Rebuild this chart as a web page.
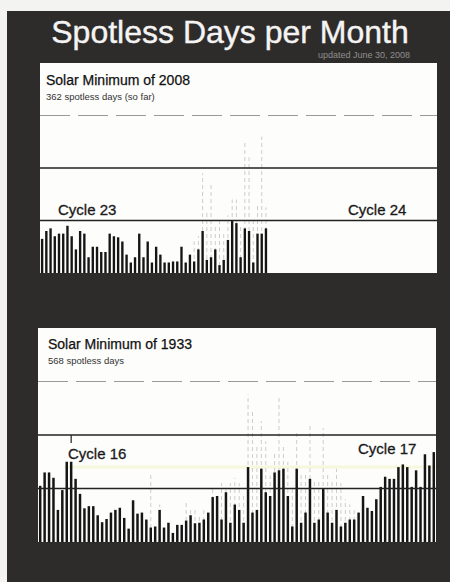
<!DOCTYPE html>
<html>
<head>
<meta charset="utf-8">
<script src="https://cdn.jsdelivr.net/npm/d3@7"></script>
<style>
  body { margin: 0; background: #f3f3f1; }
  svg { display: block; }
  text { font-family: 'Liberation Sans', Arial, sans-serif; }
</style>
</head>
<body>
<div id="chart"></div>
<script>
const width = 450
const height = 582

// one value per month, spotless days
// "solid" = the dark bars, "faded" = the pale bars behind them (0 = none)
const months2008 = d3.range(94)
const solid2008 = [
  6.5, 8, 8.5, 7, 7.5, 7.5, 9, 7, 4.5, 8,
  7.5, 3, 5, 5, 4, 4, 7.5, 7, 6.8, 6,
  3.5, 2, 3, 7.5, 3, 6, 2, 5, 3.5, 2,
  2, 2.2, 2.2, 5, 2, 3.5, 2.2, 4.5, 8, 2.5,
  3, 4.5, 1.5, 2.5, 6.3, 10, 9.5, 3, 8.5, 8,
  2, 7.5, 7.5, 8.5
]
const faded2008 = [
  0, 0, 0, 0, 0, 0, 0, 0, 0, 0,
  0, 0, 0, 0, 0, 0, 0, 0, 0, 0,
  0, 0, 0, 0, 0, 0, 0, 0, 0, 0,
  0, 0, 0, 0, 0, 0, 6, 7, 19, 12,
  17, 9, 10, 8, 11, 14, 14, 9, 25, 22,
  10, 13, 26, 12.5
]

const months1933 = d3.range(90)
const solid1933 = [
  10.5, 13, 13, 12, 6, 9.7, 15, 15, 11.8, 9,
  6.3, 6.7, 6.7, 5, 3.7, 4.3, 5.5, 6, 6.4, 4.5,
  2.5, 7.8, 5.3, 5.5, 4.2, 2.7, 2.9, 6, 2.7, 3.6,
  1.7, 3.2, 3.2, 4, 5, 3.5, 3.6, 4.2, 5.5, 8.4,
  8.6, 4.2, 9.3, 3.6, 7, 6, 3.6, 14, 5.5, 6,
  13.7, 9.3, 8.6, 13, 13.4, 13.7, 8.6, 2.9, 13.7, 3.6,
  5.5, 11.8, 3.6, 4.2, 9.9, 5.5, 3.6, 6, 2.9, 3.6,
  4.2, 4.2, 5.5, 8.6, 6.4, 5.8, 8, 10.3, 12.2, 11.8,
  11.8, 14, 14.5, 14, 10.3, 13.4, 10.3, 16.4, 14.3, 16.8
]
const faded1933 = [
  0, 0, 0, 0, 0, 0, 0, 0, 0, 0,
  0, 0, 0, 0, 0, 0, 0, 0, 0, 0,
  0, 0, 0, 0, 0, 13, 0, 7, 0, 0,
  0, 0, 0, 7.6, 6, 6.5, 5, 6, 0, 10,
  9, 11, 10, 11, 12, 11, 9, 27.6, 24.5, 18,
  22.6, 18.8, 12.4, 17, 27, 18, 15, 10.5, 20.8, 13,
  13, 22, 11.8, 11.8, 21.3, 13, 11.8, 13.7, 11, 8,
  7, 6, 0, 0, 0, 0, 0, 0, 0, 0,
  0, 0, 0, 0, 0, 0, 0, 0, 0, 0
]

const gridDays = [10, 20, 30]
const yMax = 40

const svg = d3
  .select('#chart')
  .append('svg')
  .attr('width', width)
  .attr('height', height)

// dark frame
svg
  .append('rect')
  .attr('x', 7)
  .attr('y', 11)
  .attr('width', width - 7)
  .attr('height', height - 11)
  .attr('fill', '#2e2c2a')

svg
  .append('text')
  .attr('x', 230)
  .attr('y', 43)
  .attr('text-anchor', 'middle')
  .attr('font-size', 32)
  .attr('fill', '#f4f4f4')
  .attr('stroke', '#f4f4f4')
  .attr('stroke-width', 0.4)
  .text('Spotless Days per Month')

svg
  .append('text')
  .attr('x', 410)
  .attr('y', 58)
  .attr('text-anchor', 'end')
  .attr('font-size', 9)
  .attr('fill', '#8f8f8f')
  .text('updated June 30, 2008')

function drawPanel(box, months, solid, faded, opts) {
  const g = svg
    .append('g')
    .attr('transform', `translate(${box.x},${box.y})`)

  g.append('rect')
    .attr('width', box.w)
    .attr('height', box.h)
    .attr('fill', '#fdfdfc')

  const x = d3
    .scaleBand()
    .domain(months)
    .range([0, box.w])

  const y = d3
    .scaleLinear()
    .domain([0, yMax])
    .range([box.h, 0])

  if (opts.highlight) {
    g.append('line')
      .attr('x1', x(opts.highlight.from))
      .attr('x2', box.w)
      .attr('y1', y(opts.highlight.value))
      .attr('y2', y(opts.highlight.value))
      .attr('stroke', '#eef2b4')
      .attr('stroke-width', 3)
      .attr('opacity', 0.45)
  }

  // pale bars
  g.selectAll('.faded')
    .data(faded.map((v, i) => ({ i, v })).filter(d => d.v > 0))
    .enter()
    .append('line')
    .attr('class', 'faded')
    .attr('x1', d => x(d.i) + x.bandwidth() / 2)
    .attr('x2', d => x(d.i) + x.bandwidth() / 2)
    .attr('y1', y(0))
    .attr('y2', d => y(d.v))
    .attr('stroke', '#cdcdcd')
    .attr('stroke-width', 1)
    .attr('stroke-dasharray', '4,3')

  // dark bars
  g.selectAll('.solid')
    .data(solid)
    .enter()
    .append('rect')
    .attr('class', 'solid')
    .attr('x', (d, i) => x(i) + x.bandwidth() * 0.22)
    .attr('width', x.bandwidth() * 0.56)
    .attr('y', d => y(d))
    .attr('height', d => y(0) - y(d))
    .attr('fill', '#151515')

  g.selectAll('.grid')
    .data(gridDays)
    .enter()
    .append('line')
    .attr('x1', 0)
    .attr('x2', box.w)
    .attr('y1', d => y(d))
    .attr('y2', d => y(d))
    .attr('stroke', d => (d === 30 ? '#9a9a9a' : '#222'))
    .attr('stroke-width', d => (d === 30 ? 1 : 1.3))
    .attr('stroke-dasharray', d => (d === 30 ? '30,8' : null))

  if (opts.tick != null) {
    const tx = x(opts.tick) + x.bandwidth() / 2
    g.append('line')
      .attr('x1', tx)
      .attr('x2', tx)
      .attr('y1', y(20))
      .attr('y2', y(20) + 8)
      .attr('stroke', '#222')
      .attr('stroke-width', 1.2)
  }

  g.append('text')
    .attr('x', opts.titleAt[0])
    .attr('y', opts.titleAt[1])
    .attr('font-size', 14)
    .attr('fill', '#111')
    .attr('stroke', '#111')
    .attr('stroke-width', 0.25)
    .text(opts.title)

  g.append('text')
    .attr('x', opts.titleAt[0])
    .attr('y', opts.titleAt[1] + 15)
    .attr('font-size', 9.5)
    .attr('fill', '#333')
    .text(opts.subtitle)

  opts.cycles.forEach(c => {
    g.append('text')
      .attr('x', c.at[0])
      .attr('y', c.at[1])
      .attr('font-size', 15)
      .attr('fill', '#1a1a1a')
      .attr('stroke', '#1a1a1a')
      .attr('stroke-width', 0.3)
      .text(c.label)
  })
}

drawPanel({ x: 40, y: 63, w: 397, h: 210 }, months2008, solid2008, faded2008, {
  title: 'Solar Minimum of 2008',
  subtitle: '362 spotless days (so far)',
  titleAt: [6, 22],
  cycles: [
    { label: 'Cycle 23', at: [18, 152] },
    { label: 'Cycle 24', at: [308, 152] }
  ]
})

drawPanel({ x: 38, y: 328, w: 398, h: 214 }, months1933, solid1933, faded1933, {
  title: 'Solar Minimum of 1933',
  subtitle: '568 spotless days',
  titleAt: [10, 21],
  tick: 7,
  highlight: { from: 6, value: 14 },
  cycles: [
    { label: 'Cycle 16', at: [30, 131] },
    { label: 'Cycle 17', at: [320, 126] }
  ]
})
</script>
</body>
</html>
